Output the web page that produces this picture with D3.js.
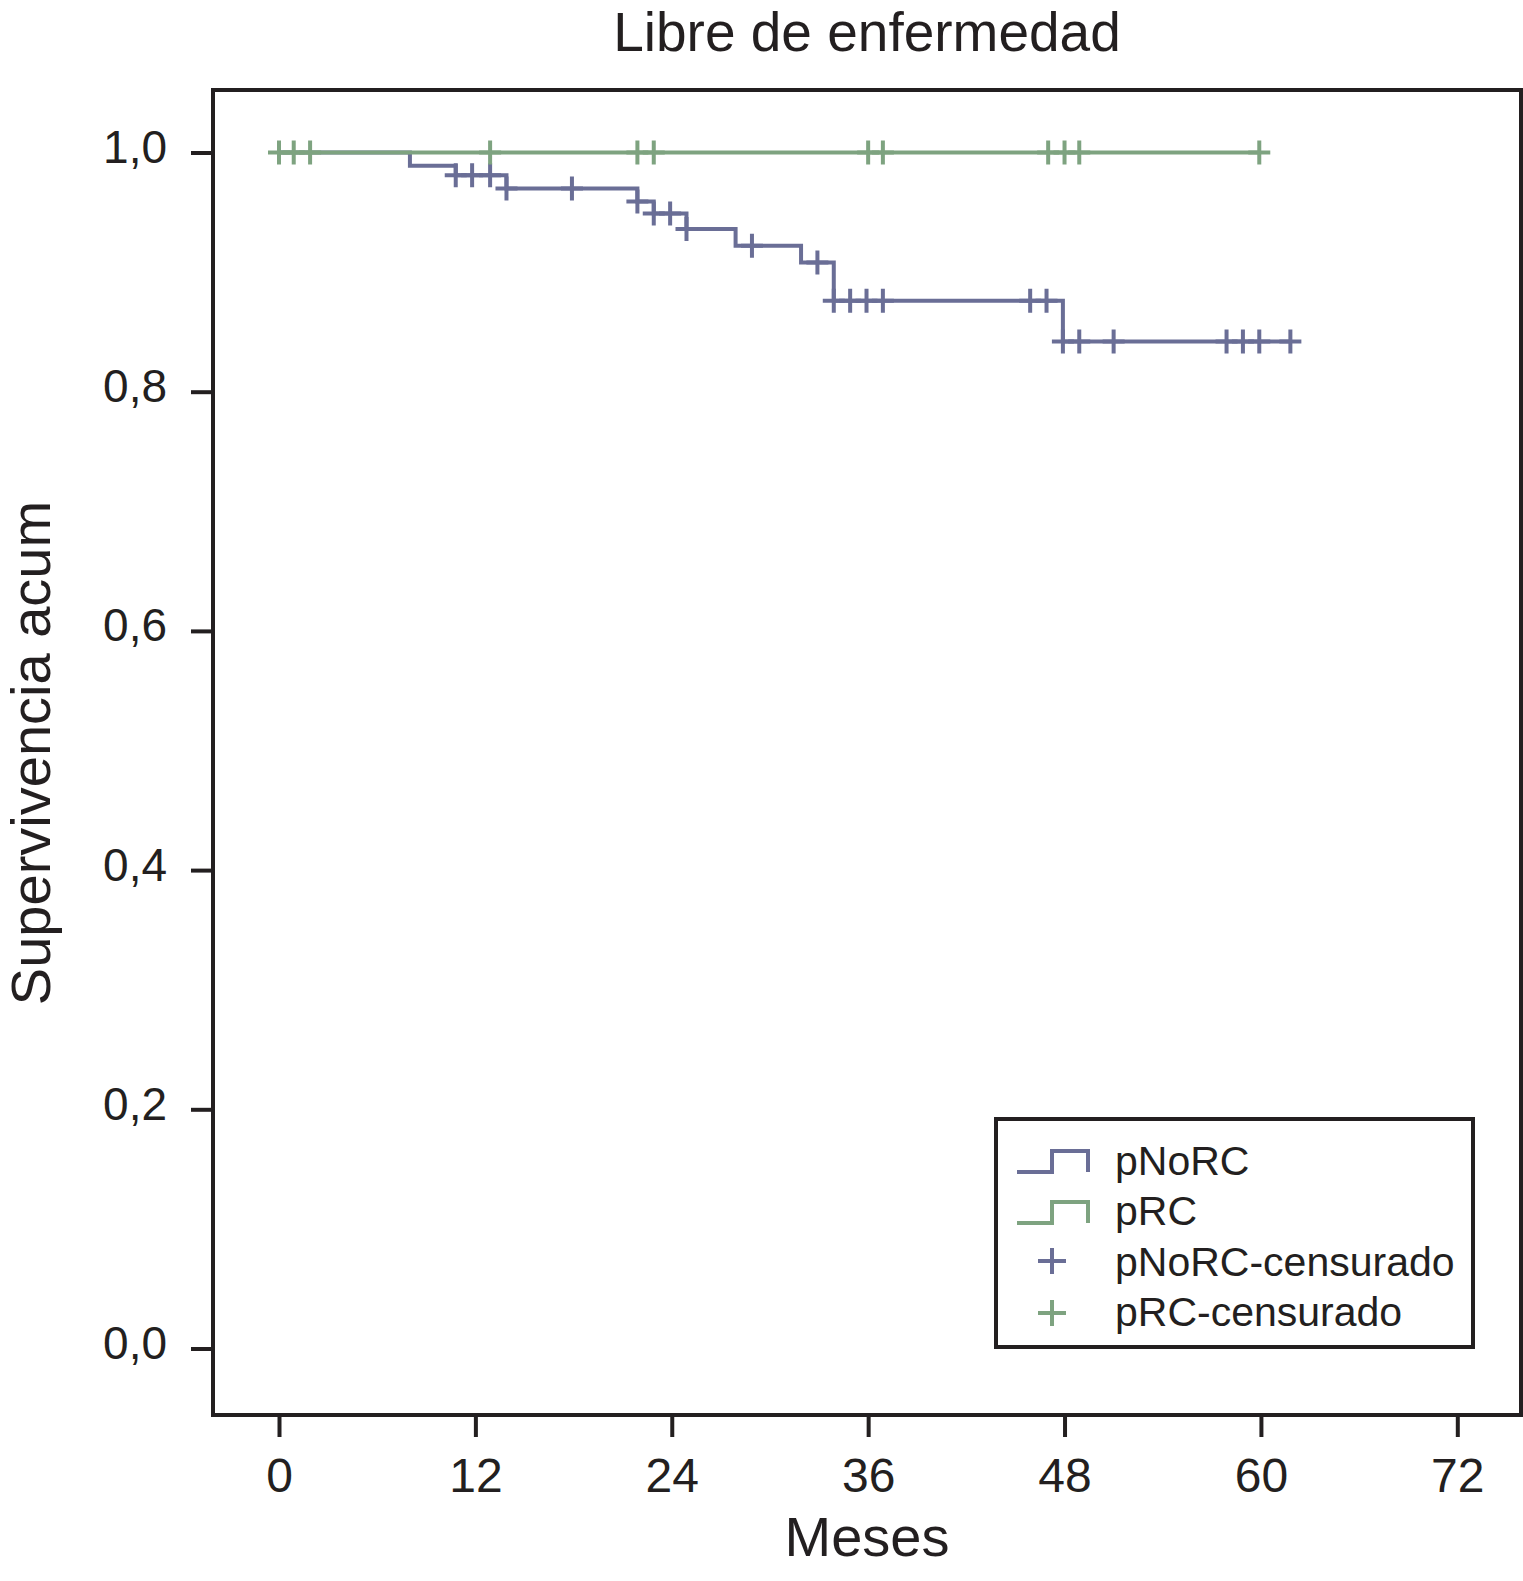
<!doctype html>
<html>
<head>
<meta charset="utf-8">
<title>Libre de enfermedad</title>
<script src="https://d3js.org/d3.v7.min.js"></script>
<style>
  body { margin: 0; background: #fff; }
  svg text { font-family: 'Liberation Sans', Arial, Helvetica, sans-serif; fill: #231f20; }
</style>
</head>
<body>
<svg width="1523" height="1581"></svg>
<script>
var monthTicks = [0, 12, 24, 36, 48, 60, 72];
var survTicks = [0, 0.2, 0.4, 0.6, 0.8, 1.0];

// pNoRC: times of the steps (months) and survival right after each one
var noRcTimes = [0, 8.0, 10.8, 13.9, 21.9, 22.9, 24.9, 27.9, 31.9, 33.9, 47.9];
var noRcSurv  = [1, 0.989, 0.981, 0.970, 0.959, 0.949, 0.936, 0.922, 0.908, 0.876, 0.842];
var noRcCens  = [10.8, 11.8, 12.9, 13.9, 17.9, 21.9, 22.9, 23.9, 24.9, 28.9, 32.9, 33.9, 34.9, 35.9, 36.9,
                 45.9, 46.9, 47.9, 48.9, 51.0, 57.9, 58.9, 59.9, 61.8];

// pRC: no events
var rcTimes = [0];
var rcSurv  = [1];
var rcCens  = [0, 0.9, 1.9, 12.9, 21.9, 22.9, 36.0, 36.9, 47.0, 48.0, 48.9, 59.9];

var legendNames = ["pNoRC", "pRC", "pNoRC-censurado", "pRC-censurado"];

var blue = "#6a6e96", green = "#7ea380", ink = "#231f20";

var svg = d3.select("svg");
var frame = {left: 213, top: 90, right: 1521, bottom: 1415};

var x = d3.scaleLinear().domain([0, 72]).range([279, 1457.3]);
var y = d3.scaleLinear().domain([0, 1]).range([1348.5, 152.5]);

// axes
var yAxis = svg.append("g")
  .attr("transform", "translate(" + frame.left + ",0)")
  .call(d3.axisLeft(y).tickValues(survTicks).tickSize(22)
    .tickFormat(d => d3.format(".1f")(d).replace(".", ",")));
yAxis.select(".domain").remove();
yAxis.selectAll("line").attr("stroke", ink).attr("stroke-width", 4);
yAxis.selectAll("text").attr("x", -46).attr("dy", 10)
  .style("font-size", "46px").attr("fill", ink);

var xAxis = svg.append("g")
  .attr("transform", "translate(0," + frame.bottom + ")")
  .call(d3.axisBottom(x).tickValues(monthTicks).tickSize(22));
xAxis.select(".domain").remove();
xAxis.selectAll("line").attr("stroke", ink).attr("stroke-width", 4);
xAxis.selectAll("text").attr("y", 77).attr("dy", 0)
  .style("font-size", "48px").attr("fill", ink);

// frame
svg.append("rect")
  .attr("x", frame.left).attr("y", frame.top)
  .attr("width", frame.right - frame.left).attr("height", frame.bottom - frame.top)
  .attr("fill", "none").attr("stroke", ink).attr("stroke-width", 4);

// titles
svg.append("text").attr("x", 867).attr("y", 51).attr("text-anchor", "middle")
  .style("font-size", "55px").text("Libre de enfermedad");
svg.append("text").attr("x", 867).attr("y", 1556).attr("text-anchor", "middle")
  .style("font-size", "56px").text("Meses");
svg.append("text").attr("transform", "translate(50,753) rotate(-90)").attr("text-anchor", "middle")
  .style("font-size", "56px").text("Supervivencia acum");

function survAt(times, surv, t) {
  var s = surv[0];
  times.forEach(function (tt, i) { if (tt <= t + 1e-9) s = surv[i]; });
  return s;
}

var step = d3.line().x(d => x(d[0])).y(d => y(d[1])).curve(d3.curveStepAfter);

function drawGroup(times, surv, cens, color) {
  var end = d3.max(cens.concat(times));
  var pts = times.map((t, i) => [t, surv[i]]);
  pts.push([end, surv[surv.length - 1]]);
  svg.append("path").attr("d", step(pts))
    .attr("fill", "none").attr("stroke", color).attr("stroke-width", 4);
  svg.append("g").selectAll("path").data(cens).enter().append("path")
    .attr("d", function (t) {
      var cx = x(t), cy = y(survAt(times, surv, t));
      return "M" + (cx - 11) + "," + cy + "H" + (cx + 11) + "M" + cx + "," + (cy - 12) + "V" + (cy + 12);
    })
    .attr("fill", "none").attr("stroke", color).attr("stroke-width", 4);
}

drawGroup(noRcTimes, noRcSurv, noRcCens, blue);
drawGroup(rcTimes, rcSurv, rcCens, green);

// legend
var lg = svg.append("g");
lg.append("rect").attr("x", 996).attr("y", 1119).attr("width", 477).attr("height", 228)
  .attr("fill", "#fff").attr("stroke", ink).attr("stroke-width", 4);
var rowY = [1172, 1223, 1261, 1313];
var textY = [1175, 1225, 1276, 1326];
var legendColors = [blue, green, blue, green];
legendNames.forEach(function (name, i) {
  if (i < 2) {
    lg.append("path")
      .attr("d", "M1017," + rowY[i] + "H1052V" + (rowY[i] - 21) + "H1088V" + rowY[i])
      .attr("fill", "none").attr("stroke", legendColors[i]).attr("stroke-width", 4);
  } else {
    lg.append("path")
      .attr("d", "M1038," + rowY[i] + "H1066M1052," + (rowY[i] - 13) + "V" + (rowY[i] + 13))
      .attr("fill", "none").attr("stroke", legendColors[i]).attr("stroke-width", 4);
  }
  lg.append("text").attr("x", 1115).attr("y", textY[i])
    .style("font-size", "41px").text(name);
});
</script>
</body>
</html>
